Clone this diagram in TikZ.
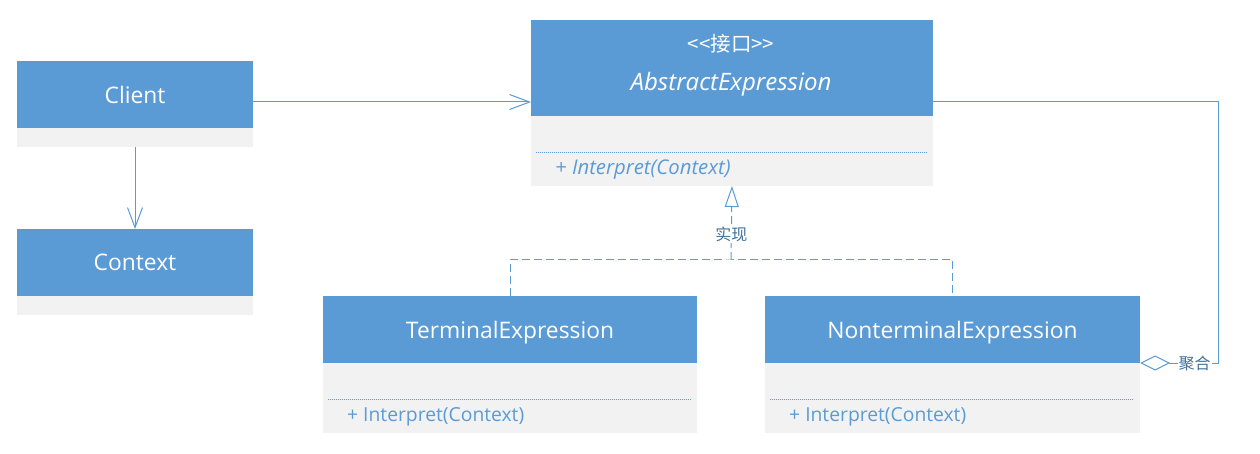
\documentclass[tikz,border=0pt]{standalone}
\usepackage{fontspec}
\setmainfont{Open Sans}
\newfontfamily\cjk{Noto Sans CJK SC}
\usetikzlibrary{arrows.meta,calc}
\definecolor{hdrblue}{HTML}{5B9BD5}
\definecolor{bodygrey}{HTML}{F2F2F2}
\definecolor{linec}{HTML}{5B9BD5}
\definecolor{lblc}{HTML}{41719C}
\tikzset{
  hdr/.style={fill=hdrblue, draw=none, inner sep=0pt, outer sep=0pt, anchor=north west, text=white, text depth=0pt, font=\fontsize{22.8}{27}\selectfont},
  bodyb/.style={fill=bodygrey, draw=none, inner sep=0pt, outer sep=0pt, anchor=north west},
  meth/.style={anchor=west, inner sep=0pt, text=hdrblue, font=\fontsize{19.3}{23}\selectfont},
  sep/.style={draw=linec, line width=0.6pt, dash pattern=on 1pt off 1pt},
  conn/.style={draw=linec, line width=1pt},
  dsh/.style={draw=linec, line width=1pt, dash pattern=on 8pt off 4pt},
  lbl/.style={fill=white, text=lblc, inner sep=1pt, font=\cjk\fontsize{16}{19}\selectfont},
}
\begin{document}
\begin{tikzpicture}[x=1pt,y=-1pt]
\useasboundingbox (0,0) rectangle (1260,454);
% Client
\node[hdr, minimum width=236pt, minimum height=67pt] (client) at (17,61) {Client};
\node[bodyb, minimum width=236pt, minimum height=19pt] (clientb) at (17,128) {};
% Context
\node[hdr, minimum width=236pt, minimum height=67pt] (context) at (17,229) {Context};
\node[bodyb, minimum width=236pt, minimum height=19pt] (contextb) at (17,296) {};
% AbstractExpression
\node[hdr, minimum width=402pt, minimum height=96pt] (abs) at (531,20) {};
\node[bodyb, minimum width=402pt, minimum height=70pt] (absb) at (531,116) {};
\node[text=white, inner sep=0pt, font=\cjk\fontsize{20.5}{24}\selectfont] (stereo) at (731,44) {<<接口>>};
\node[text=white, inner sep=0pt, font=\fontsize{24}{28}\selectfont\itshape] (absname) at (731,84) {AbstractExpression};
\coordinate (absl) at (536,152);
\coordinate (absr) at (927,152);
\draw[sep] (absl) -- (absr);
\node[meth, font=\fontsize{20.3}{24}\selectfont\itshape] (absm) at (555,170) {+ Interpret(Context)};
% TerminalExpression
\node[hdr, minimum width=374pt, minimum height=67pt] (term) at (323,296) {TerminalExpression};
\node[bodyb, minimum width=374pt, minimum height=70pt] (termb) at (323,363) {};
\coordinate (terml) at (328,399);
\coordinate (termr) at (692,399);
\draw[sep] (terml) -- (termr);
\node[meth] (termm) at (347,417) {+ Interpret(Context)};
% NonterminalExpression
\node[hdr, minimum width=375pt, minimum height=67pt] (nonterm) at (765,296) {NonterminalExpression};
\node[bodyb, minimum width=375pt, minimum height=70pt] (nontermb) at (765,363) {};
\coordinate (ntl) at (770,399);
\coordinate (ntr) at (1134,399);
\draw[sep] (ntl) -- (ntr);
\node[meth] (ntm) at (789,417) {+ Interpret(Context)};
% Client -> AbstractExpression
\coordinate (c1) at ([yshift=-7.5pt]client.east);
\draw[conn, -{Straight Barb[length=20pt,width=15pt,line width=1pt]}] (c1) -- (abs.west |- c1);
% Client -> Context
\draw[conn, -{Straight Barb[length=20pt,width=15pt,line width=1pt]}] (clientb.south) -- (context.north);
% Realization
\coordinate (rj) at (731,260);
\draw[dsh] (term.north) |- (rj) -| (nonterm.north);
\draw[dsh, -{Triangle[open,length=21pt,width=14pt,line width=1pt]}] (rj) -- node[lbl, pos=0.35]{实现} (absb.south);
% Aggregation
\coordinate (a2) at ([yshift=-34pt]abs.east);
\coordinate (ag) at (nontermb.north east);
\coordinate (rx) at (1218,0);
\draw[conn, {Diamond[open,length=30pt,width=15pt,line width=1pt]}-] (ag) -- node[lbl, pos=0.7]{聚合} (ag -| rx) |- (a2);
\end{tikzpicture}
\end{document}
